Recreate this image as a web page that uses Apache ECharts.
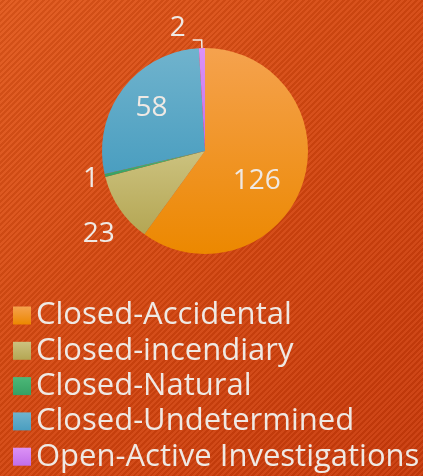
<!DOCTYPE html>
<html>
<head>
<meta charset="utf-8">
<script src="https://cdn.jsdelivr.net/npm/echarts@6/dist/echarts.min.js"></script>
<style>
  html, body { margin: 0; padding: 0; }
  body {
    width: 423px; height: 476px; overflow: hidden;
    background:
      repeating-linear-gradient(135deg, rgba(255,255,255,0.05) 0px, rgba(255,255,255,0.05) 2px, rgba(0,0,0,0.06) 2px, rgba(0,0,0,0.06) 4px),
      linear-gradient(135deg, #e1571a 0%, #d4460f 50%, #c9390a 100%);
  }
  #chart { width: 423px; height: 476px; }
</style>
</head>
<body>
<div id="chart"></div>
<script>
// 数据
var categories = ['Closed-Accidental', 'Closed-incendiary', 'Closed-Natural', 'Closed-Undetermined', 'Open-Active Investigations'];
var counts = [126, 23, 1, 58, 2];
// 颜色（上浅下深）
var topColors = ['#f5a24e', '#ccc27f', '#4cb878', '#70b3cd', '#dc92f6'];
var bottomColors = ['#ec8800', '#b4a653', '#36a063', '#4a9ec0', '#c06ee9'];

var labelFont = '"Open Sans", sans-serif';

function grad(i) {
  return new echarts.graphic.LinearGradient(0, 0, 0, 1, [
    { offset: 0, color: topColors[i] },
    { offset: 1, color: bottomColors[i] }
  ]);
}

// 标签微调（只是文字位置）
var labelShift = [[0, 13], [22, 13], [9, 2], [-10, -10], [-2, -12]];

var pieData = categories.map(function (name, i) {
  var item = { name: name, value: counts[i], itemStyle: { color: grad(i) } };
  if (i === 0 || i === 3) {
    item.label = { position: 'inside' };
  } else {
    item.label = { position: 'outside' };
    item.labelLine = { show: i === 4, length: i === 4 ? 8 : (i === 1 ? 22 : 6), length2: i === 4 ? 9 : 4 };
  }
  return item;
});

var myChart = echarts.init(document.getElementById('chart'));
myChart.setOption({
  backgroundColor: 'transparent',
  animation: false,
  legend: {
    orient: 'vertical',
    left: 13,
    top: 300,
    padding: 0,
    itemWidth: 18,
    itemHeight: 18,
    itemGap: 4.3,
    icon: 'rect',
    textStyle: { color: '#efe9e4', fontSize: 31, lineHeight: 31, fontFamily: labelFont },
    data: categories
  },
  series: [{
    type: 'pie',
    center: [205, 151],
    radius: [0, 103],
    startAngle: 90,
    clockwise: true,
    avoidLabelOverlap: false,
    label: {
      show: true,
      color: '#efe9e4',
      fontSize: 28,
      fontFamily: labelFont,
      formatter: '{c}'
    },
    labelLine: {
      lineStyle: { color: '#f2ece6', width: 1.5 },
      smooth: false
    },
    labelLayout: function (params) {
      var s = labelShift[params.dataIndex];
      return { dx: s[0], dy: s[1] };
    },
    data: pieData
  }]
});
</script>
</body>
</html>
